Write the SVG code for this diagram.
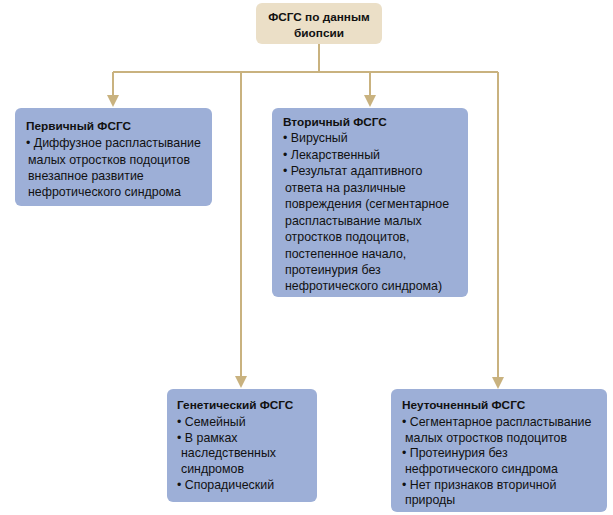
<svg xmlns="http://www.w3.org/2000/svg" width="613" height="515" viewBox="0 0 613 515">
<defs>
<style>
.blue{fill:#9DAFD7;}
.beige{fill:#EBDFC7;}
.c{stroke:#C9B27F;stroke-width:2;fill:none;}
.ah{fill:#C9B27F;}
text{font-family:"Liberation Sans",Arial,sans-serif;font-size:12.4px;fill:#111;}
.b{font-weight:bold;font-size:11.8px;}
</style>
</defs>
<g id="connectors">
<path class="c" d="M319,43 V72"/>
<path class="c" d="M113,72 H498"/>
<path class="c" d="M113,72 V95"/>
<path class="c" d="M370,72 V95"/>
<path class="c" d="M241,72 V376"/>
<path class="c" d="M498,72 V377"/>
<path class="ah" d="M107,95 H119 L113,107 Z"/>
<path class="ah" d="M364,95 H376 L370,107 Z"/>
<path class="ah" d="M235,376 H247 L241,388 Z"/>
<path class="ah" d="M492,377 H504 L498,389 Z"/>
</g>
<g id="root">
<rect class="beige" x="256" y="3" width="126" height="41" rx="6"/>
<text class="b" x="319" y="21" text-anchor="middle">ФСГС по данным</text>
<text class="b" x="319" y="37" text-anchor="middle">биопсии</text>
</g>
<g id="primary">
<rect class="blue" x="15" y="108" width="197" height="98" rx="6"/>
<text class="b" x="26" y="130">Первичный ФСГС</text>
<text x="26" y="147">• Диффузное распластывание</text>
<text x="28" y="164">малых отростков подоцитов</text>
<text x="28" y="180">внезапное развитие</text>
<text x="28" y="196">нефротического синдрома</text>
</g>
<g id="secondary">
<rect class="blue" x="272" y="108" width="196" height="189" rx="6"/>
<text class="b" x="283" y="126">Вторичный ФСГС</text>
<text x="283" y="142">• Вирусный</text>
<text x="283" y="159">• Лекарственный</text>
<text x="283" y="175">• Результат адаптивного</text>
<text x="285" y="192">ответа на различные</text>
<text x="285" y="208">повреждения (сегментарное</text>
<text x="285" y="225">распластывание малых</text>
<text x="285" y="241">отростков подоцитов,</text>
<text x="285" y="258">постепенное начало,</text>
<text x="285" y="274">протеинурия без</text>
<text x="285" y="290">нефротического синдрома)</text>
</g>
<g id="genetic">
<rect class="blue" x="167" y="389" width="150" height="113" rx="6"/>
<text class="b" x="177" y="409">Генетический ФСГС</text>
<text x="177" y="426">• Семейный</text>
<text x="177" y="442">• В рамках</text>
<text x="181" y="457">наследственных</text>
<text x="181" y="473">синдромов</text>
<text x="177" y="489">• Спорадический</text>
</g>
<g id="unspecified">
<rect class="blue" x="391" y="389" width="216" height="123" rx="6"/>
<text class="b" x="402" y="409">Неуточненный ФСГС</text>
<text x="402" y="426">• Сегментарное распластывание</text>
<text x="405" y="442">малых отростков подоцитов</text>
<text x="402" y="457">• Протеинурия без</text>
<text x="405" y="473">нефротического синдрома</text>
<text x="402" y="489">• Нет признаков вторичной</text>
<text x="405" y="504">природы</text>
</g>
</svg>
